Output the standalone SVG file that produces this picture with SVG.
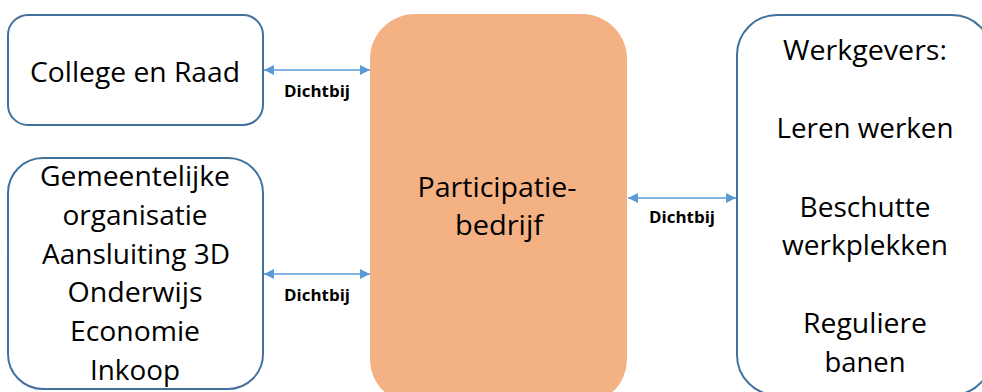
<svg xmlns="http://www.w3.org/2000/svg" width="982" height="392" viewBox="0 0 982 392">
  <style>
    .box { fill: #ffffff; stroke: #41719c; stroke-width: 2; }
    .core { fill: #f4b183; stroke: none; }
    .t { font-family: "Open Sans", "Liberation Sans", Arial, sans-serif; font-size: 27px; fill: #000000; text-anchor: middle; }
    .lbl { font-family: "Open Sans", "Liberation Sans", Arial, sans-serif; font-size: 15.5px; font-weight: bold; fill: #000000; text-anchor: middle; }
    .link { stroke: #5b9bd5; stroke-width: 1.5; fill: none; marker-start: url(#head); marker-end: url(#head); }
  </style>
  <defs>
    <marker id="head" viewBox="0 0 10 10" refX="10" refY="5" markerWidth="10" markerHeight="10" markerUnits="userSpaceOnUse" orient="auto-start-reverse">
      <path d="M0,0 L10,5 L0,10 Z" fill="#5b9bd5"/>
    </marker>
  </defs>

  <g id="college">
    <rect class="box" x="8" y="15" width="255" height="110" rx="20"/>
    <text class="t" x="135" y="82" textLength="210" lengthAdjust="spacingAndGlyphs">College en Raad</text>
  </g>

  <g id="gemeente">
    <rect class="box" x="8" y="158" width="255" height="231" rx="35"/>
    <text class="t" x="135" y="186" textLength="190" lengthAdjust="spacingAndGlyphs">Gemeentelijke</text>
    <text class="t" x="135" y="225" textLength="145" lengthAdjust="spacingAndGlyphs">organisatie</text>
    <text class="t" x="136" y="264" textLength="188" lengthAdjust="spacingAndGlyphs">Aansluiting 3D</text>
    <text class="t" x="135" y="302" textLength="135" lengthAdjust="spacingAndGlyphs">Onderwijs</text>
    <text class="t" x="135" y="341" textLength="130" lengthAdjust="spacingAndGlyphs">Economie</text>
    <text class="t" x="135" y="380" textLength="90" lengthAdjust="spacingAndGlyphs">Inkoop</text>
  </g>

  <g id="participatiebedrijf">
    <rect class="core" x="370" y="14" width="257" height="390" rx="45"/>
    <text class="t" x="497" y="197" textLength="159" lengthAdjust="spacingAndGlyphs">Participatie-</text>
    <text class="t" x="499" y="235" textLength="88" lengthAdjust="spacingAndGlyphs">bedrijf</text>
  </g>

  <g id="werkgevers">
    <rect class="box" x="737" y="15" width="255" height="380" rx="40"/>
    <text class="t" x="865" y="60" textLength="164" lengthAdjust="spacingAndGlyphs">Werkgevers:</text>
    <text class="t" x="865" y="138" textLength="177" lengthAdjust="spacingAndGlyphs">Leren werken</text>
    <text class="t" x="865" y="217" textLength="131" lengthAdjust="spacingAndGlyphs">Beschutte</text>
    <text class="t" x="865" y="255" textLength="166" lengthAdjust="spacingAndGlyphs">werkplekken</text>
    <text class="t" x="865" y="333" textLength="124" lengthAdjust="spacingAndGlyphs">Reguliere</text>
    <text class="t" x="865" y="372" textLength="81" lengthAdjust="spacingAndGlyphs">banen</text>
  </g>

  <g id="connectors">
    <line class="link" x1="264" y1="70" x2="370" y2="70"/>
    <text class="lbl" x="317" y="97" textLength="66" lengthAdjust="spacingAndGlyphs">Dichtbij</text>
    <line class="link" x1="264" y1="274" x2="370" y2="274"/>
    <text class="lbl" x="317" y="301" textLength="66" lengthAdjust="spacingAndGlyphs">Dichtbij</text>
    <line class="link" x1="628" y1="198" x2="736" y2="198"/>
    <text class="lbl" x="682" y="223" textLength="66" lengthAdjust="spacingAndGlyphs">Dichtbij</text>
  </g>
</svg>
